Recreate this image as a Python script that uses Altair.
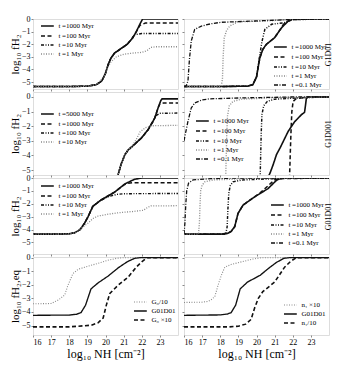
import altair as alt
import pandas as pd

SERIF = "Liberation Serif"
X_TITLE = "log₁₀ NH [cm⁻²]"
Y_TITLE = "log₁₀ fH₂"
Y_TITLE_EQ = "log₁₀ fH₂,eq"
X_TICKS = [16, 17, 18, 19, 20, 21, 22, 23]
Y_TICKS = [0, -1, -2, -3, -4, -5]

# ---------------- Row 1, left ----------------
R1L_T1000_X = [16, 17, 18, 19, 19.5, 19.8, 20.0, 20.15, 20.3, 20.5, 20.8, 21.2, 21.5, 21.7, 21.9, 22.05, 23, 24]
R1L_T1000_Y = [-5.35, -5.35, -5.35, -5.33, -5.2, -4.9, -4.3, -3.6, -3.1, -2.7, -2.4, -2.0, -1.5, -1.0, -0.4, 0, 0, 0]
R1L_T100_X = [16, 18, 19, 19.5, 19.8, 20.0, 20.15, 20.3, 20.5, 20.8, 21.2, 21.5, 21.7, 21.9, 22.2, 24]
R1L_T100_Y = [-5.35, -5.35, -5.33, -5.2, -4.9, -4.3, -3.6, -3.1, -2.7, -2.4, -2.0, -1.5, -1.0, -0.5, -0.32, -0.32]
R1L_T10_X = [16, 18, 19, 19.5, 19.8, 20.0, 20.15, 20.3, 20.5, 20.8, 21.2, 21.4, 21.6, 22.0, 24]
R1L_T10_Y = [-5.35, -5.35, -5.33, -5.2, -4.9, -4.3, -3.6, -3.1, -2.7, -2.4, -2.0, -1.65, -1.25, -1.15, -1.15]
R1L_T1_X = [16, 18, 19, 19.5, 19.9, 20.1, 20.3, 20.6, 21.0, 21.5, 22.0, 22.3, 22.5, 22.8, 24]
R1L_T1_Y = [-5.35, -5.35, -5.33, -5.2, -4.6, -3.9, -3.4, -3.0, -2.8, -2.7, -2.65, -2.5, -2.25, -2.2, -2.2]

# ---------------- Row 1, right (G1D01) ----------------
R1R_T1000_X = [16, 18, 19.5, 19.8, 20.0, 20.18, 20.35, 20.55, 21.0, 21.38, 21.75, 21.95, 24]
R1R_T1000_Y = [-5.35, -5.35, -5.33, -5.2, -4.6, -3.1, -2.4, -2.0, -1.48, -0.7, -0.16, 0, 0]
R1R_T100_X = [16, 18, 19.5, 19.8, 20.0, 20.18, 20.35, 20.55, 21.0, 21.3, 21.5, 21.8, 22.0, 24]
R1R_T100_Y = [-5.35, -5.35, -5.33, -5.2, -4.6, -3.1, -2.4, -2.0, -1.48, -0.85, -0.4, -0.12, -0.03, 0]
R1R_T10_X = [16, 18, 19.5, 19.8, 20.0, 20.13, 20.3, 20.46, 20.83, 21.5, 22.0, 24]
R1R_T10_Y = [-5.35, -5.35, -5.33, -5.2, -4.6, -3.3, -1.8, -0.82, -0.42, -0.3, -0.05, 0]
R1R_T1_X = [16, 17, 18.05, 18.12, 18.16, 18.22, 18.35, 18.52, 18.98, 20.0, 21.0, 21.8, 24]
R1R_T1_Y = [-5.35, -5.35, -5.35, -4.8, -3.0, -1.5, -0.9, -0.56, -0.22, -0.18, -0.12, -0.02, 0]
R1R_T01_X = [16, 16.12, 16.22, 16.3, 16.4, 16.59, 16.96, 17.51, 18.06, 19.9, 21.75, 24]
R1R_T01_Y = [-5.35, -5.3, -4.9, -3.2, -1.75, -0.82, -0.56, -0.37, -0.26, -0.16, -0.05, 0]

# ---------------- Row 2, left ----------------
R2L_T5000_X = [20.62, 20.7, 20.86, 21.07, 21.25, 21.62, 21.98, 22.35, 22.72, 22.9, 23.05, 23.12, 24]
R2L_T5000_Y = [-5.6, -5.3, -4.6, -3.95, -3.63, -3.22, -2.81, -2.24, -1.44, -0.75, -0.25, -0.13, -0.13]
R2L_T1000_X = [20.62, 20.7, 20.86, 21.07, 21.25, 21.62, 21.98, 22.35, 22.72, 22.9, 23.0, 23.2, 24]
R2L_T1000_Y = [-5.6, -5.3, -4.6, -3.95, -3.63, -3.22, -2.81, -2.24, -1.44, -0.75, -0.48, -0.41, -0.41]
R2L_T100_X = [20.62, 20.7, 20.86, 21.07, 21.25, 21.62, 21.98, 22.35, 22.6, 22.75, 23.0, 24]
R2L_T100_Y = [-5.6, -5.3, -4.6, -3.95, -3.63, -3.22, -2.81, -2.24, -1.75, -1.3, -1.12, -1.1]
R2L_T10_X = [20.62, 20.7, 20.86, 21.07, 21.25, 21.45, 21.7, 21.9, 22.2, 22.6, 24]
R2L_T10_Y = [-5.6, -5.3, -4.6, -3.95, -3.63, -3.4, -2.9, -2.4, -2.1, -1.97, -1.94]

# ---------------- Row 2, right (G1D001) ----------------
R2R_T1000_X = [20.6, 20.75, 20.92, 21.1, 21.3, 21.75, 22.1, 22.48, 22.65, 22.7, 22.75, 22.85, 24]
R2R_T1000_Y = [-5.6, -5.2, -4.63, -3.95, -3.49, -2.35, -1.7, -1.21, -1.05, -0.6, -0.1, 0, 0]
R2R_T100_X = [21.82, 21.86, 21.9, 21.95, 22.02, 22.2, 23.0, 24]
R2R_T100_Y = [-5.6, -4.0, -2.5, -1.0, -0.3, -0.1, 0, 0]
R2R_T10_X = [20.2, 20.23, 20.26, 20.3, 20.4, 20.6, 21.0, 22.5, 24]
R2R_T10_Y = [-5.6, -4.0, -2.5, -1.2, -0.6, -0.3, -0.15, -0.05, 0]
R2R_T1_X = [18.3, 18.33, 18.36, 18.4, 18.5, 18.7, 19.2, 21.0, 24]
R2R_T1_Y = [-5.6, -4.0, -2.5, -1.3, -0.6, -0.3, -0.15, -0.05, 0]
R2R_T01_X = [16.0, 16.08, 16.22, 16.4, 16.6, 17.0, 17.4, 19.0, 22.0, 24]
R2R_T01_Y = [-3.0, -2.5, -1.66, -0.75, -0.4, -0.2, -0.13, -0.07, 0, 0]

# ---------------- Row 3, left ----------------
R3L_T1000_X = [16, 17, 18, 18.3, 18.6, 18.85, 19.04, 19.3, 19.76, 20.5, 21.08, 21.6, 22.0, 24]
R3L_T1000_Y = [-4.36, -4.36, -4.33, -4.25, -4.0, -3.5, -3.0, -2.2, -1.7, -1.1, -0.45, -0.1, 0, 0]
R3L_T100_X = [16, 17, 18, 18.3, 18.6, 18.85, 19.04, 19.3, 19.76, 20.5, 21.0, 21.2, 21.5, 24]
R3L_T100_Y = [-4.36, -4.36, -4.33, -4.25, -4.0, -3.5, -3.0, -2.2, -1.7, -1.1, -0.55, -0.42, -0.37, -0.37]
R3L_T10_X = [16, 17, 18, 18.3, 18.6, 18.85, 19.04, 19.3, 19.6, 20.1, 20.6, 21.0, 24]
R3L_T10_Y = [-4.36, -4.36, -4.33, -4.25, -4.0, -3.5, -3.0, -2.2, -1.85, -1.47, -1.28, -1.22, -1.2]
R3L_T1_X = [16, 17, 18, 18.3, 18.6, 18.85, 19.04, 19.3, 19.6, 20.2, 20.7, 21.5, 22.1, 22.3, 22.5, 24]
R3L_T1_Y = [-4.36, -4.36, -4.33, -4.25, -4.0, -3.7, -3.5, -3.15, -2.95, -2.8, -2.7, -2.6, -2.5, -2.3, -2.17, -2.15]

# ---------------- Row 3, right (G01D01) ----------------
R3R_T1000_X = [16, 18, 18.4, 18.6, 18.8, 18.98, 19.26, 19.9, 20.64, 21.1, 21.3, 21.5, 24]
R3R_T1000_Y = [-4.36, -4.36, -4.3, -4.15, -3.77, -2.75, -2.1, -1.46, -0.82, -0.18, -0.05, 0, 0]
R3R_T100_X = [16, 18, 18.4, 18.6, 18.8, 18.98, 19.26, 19.9, 20.2, 20.5, 20.8, 21.0, 21.2, 24]
R3R_T100_Y = [-4.36, -4.36, -4.3, -4.15, -3.77, -2.75, -2.1, -1.46, -1.15, -0.78, -0.4, -0.15, -0.05, 0]
R3R_T10_X = [16, 18.3, 18.38, 18.42, 18.47, 18.55, 18.7, 19.2, 20.5, 22.0, 24]
R3R_T10_Y = [-4.36, -4.36, -3.8, -2.5, -1.2, -0.6, -0.3, -0.15, -0.08, 0, 0]
R3R_T1_X = [16, 16.8, 16.85, 16.88, 16.92, 17.0, 17.15, 17.6, 19.0, 21.0, 24]
R3R_T1_Y = [-4.36, -4.36, -3.5, -2.2, -1.0, -0.55, -0.3, -0.15, -0.08, 0, 0]
R3R_T01_X = [16, 16.05, 16.1, 16.15, 16.25, 16.5, 17.5, 19.0, 24]
R3R_T01_Y = [-4.36, -3.5, -2.0, -1.0, -0.4, -0.15, -0.05, 0, 0]

# ---------------- Row 4, left ----------------
R4L_G0DIV_X = [16, 17.0, 17.4, 17.75, 17.93, 18.2, 18.5, 18.85, 19.5, 20.1, 20.6, 21.0, 24]
R4L_G0DIV_Y = [-3.4, -3.38, -3.12, -2.75, -2.03, -1.18, -0.85, -0.7, -0.45, -0.2, -0.05, 0, 0]
R4L_FID_X = [16, 18, 18.4, 18.65, 18.9, 19.2, 19.6, 20.15, 20.7, 21.2, 21.6, 21.9, 24]
R4L_FID_Y = [-4.25, -4.23, -4.17, -4.05, -3.5, -2.3, -1.85, -1.35, -0.75, -0.3, -0.05, 0, 0]
R4L_G0MUL_X = [16, 18, 19.22, 19.59, 19.87, 20.05, 20.24, 20.7, 21.25, 21.7, 22.0, 22.3, 24]
R4L_G0MUL_Y = [-5.1, -5.1, -4.98, -4.8, -4.45, -3.48, -2.63, -2.03, -1.43, -0.7, -0.3, 0, 0]

# ---------------- Row 4, right ----------------
R4R_N1MUL_X = [16, 17.0, 17.33, 17.5, 17.7, 17.88, 18.06, 18.25, 18.6, 19.2, 19.8, 20.3, 24]
R4R_N1MUL_Y = [-3.3, -3.28, -3.22, -3.1, -2.87, -2.03, -1.3, -0.7, -0.5, -0.3, -0.1, 0, 0]
R4R_FID_X = [16, 18, 18.4, 18.6, 18.85, 19.1, 19.5, 20.2, 20.7, 21.1, 21.5, 21.8, 24]
R4R_FID_Y = [-4.25, -4.22, -4.15, -4.05, -3.5, -2.3, -1.8, -1.3, -0.75, -0.35, -0.05, 0, 0]
R4R_N1DIV_X = [16, 18.5, 19.0, 19.4, 19.7, 19.9, 20.1, 20.35, 21.0, 21.55, 21.9, 22.2, 24]
R4R_N1DIV_Y = [-5.1, -5.1, -5.05, -4.9, -4.55, -3.7, -3.0, -2.5, -1.8, -0.7, -0.25, 0, 0]

# line styles: (dash, colour, width)
STYLES = {
    "solid": ([1, 0], "#111111", 1.6),
    "dash": ([4, 2.5], "#111111", 1.3),
    "dashdotdot": ([3, 1.5, 1, 1.5, 1, 1.5], "#111111", 1.1),
    "dot": ([1, 1.5], "#8a8a8a", 1.1),
    "dashdot": ([4, 1.5, 1, 1.5], "#111111", 1.2),
}


def frame(curves):
    rows = []
    for lab, xs, ys, _ in curves:
        for i, (x, y) in enumerate(zip(xs, ys)):
            rows.append({"label": lab, "N": x, "f": y, "order": i})
    return pd.DataFrame(rows)


def panel(curves, ydom, h, lx, ly, ytitle=None, xlabels=False, rtitle=None, right=False):
    df = frame(curves)
    labels = [c[0] for c in curves]
    dashes = [STYLES[c[3]][0] for c in curves]
    colors = [STYLES[c[3]][1] for c in curves]
    widths = [STYLES[c[3]][2] for c in curves]
    leg = alt.Legend(
        title=None, orient="none", legendX=lx, legendY=ly,
        symbolType="M-1.6,0H1.6", symbolSize=64, symbolStrokeWidth=1.3,
        labelFont=SERIF, labelFontSize=7, rowPadding=1, padding=0,
        labelOffset=6,
    )
    xax = alt.Axis(values=X_TICKS, labels=xlabels, title=X_TITLE if xlabels else None,
                   tickSize=2, grid=False, domain=False, labelFont=SERIF, labelFontSize=8,
                   titleFont=SERIF, titleFontSize=12, titleFontWeight="normal", labelPadding=1,
                   titlePadding=2)
    yax = alt.Axis(values=Y_TICKS, labels=not right, title=ytitle, tickSize=2, grid=False,
                   domain=False, labelFont=SERIF, labelFontSize=8, titleFont=SERIF,
                   titleFontSize=11, titleFontWeight="normal", labelPadding=1, titlePadding=1)
    base = alt.Chart(df).encode(
        x=alt.X("N:Q", scale=alt.Scale(domain=[16, 24], nice=False, zero=False), axis=xax),
        order=alt.Order("order:Q"),
    )
    lines = base.mark_line(clip=True).encode(
        y=alt.Y("f:Q", scale=alt.Scale(domain=ydom, nice=False, zero=False), axis=yax),
        color=alt.Color("label:N", scale=alt.Scale(domain=labels, range=colors), legend=leg),
        strokeDash=alt.StrokeDash("label:N", scale=alt.Scale(domain=labels, range=dashes), legend=leg),
        strokeWidth=alt.StrokeWidth("label:N", scale=alt.Scale(domain=labels, range=widths), legend=None),
    )
    ch = lines
    if rtitle:
        ghost = base.mark_line(clip=True, strokeOpacity=0).encode(
            y=alt.Y("f:Q", scale=alt.Scale(domain=ydom, nice=False, zero=False),
                    axis=alt.Axis(orient="right", labels=False, ticks=False, domain=False,
                                  grid=False, title=rtitle, titleFont=SERIF, titleFontSize=8,
                                  titleFontWeight="normal", titleAngle=270, titlePadding=3)),
            detail="label:N",
        )
        ch = alt.layer(lines, ghost).resolve_axis(y="independent")
    return ch.properties(width=145, height=h)


R1L = [("t =1000 Myr", R1L_T1000_X, R1L_T1000_Y, "solid"),
       ("t =100 Myr", R1L_T100_X, R1L_T100_Y, "dash"),
       ("t =10 Myr", R1L_T10_X, R1L_T10_Y, "dashdotdot"),
       ("t =1 Myr", R1L_T1_X, R1L_T1_Y, "dot")]
R1R = [("t =1000 Myr", R1R_T1000_X, R1R_T1000_Y, "solid"),
       ("t =100 Myr", R1R_T100_X, R1R_T100_Y, "dash"),
       ("t =10 Myr", R1R_T10_X, R1R_T10_Y, "dashdotdot"),
       ("t =1 Myr", R1R_T1_X, R1R_T1_Y, "dot"),
       ("t =0.1 Myr", R1R_T01_X, R1R_T01_Y, "dashdot")]
R2L = [("t =5000 Myr", R2L_T5000_X, R2L_T5000_Y, "solid"),
       ("t =1000 Myr", R2L_T1000_X, R2L_T1000_Y, "dash"),
       ("t =100 Myr", R2L_T100_X, R2L_T100_Y, "dashdotdot"),
       ("t =10 Myr", R2L_T10_X, R2L_T10_Y, "dot")]
R2R = [("t =1000 Myr", R2R_T1000_X, R2R_T1000_Y, "solid"),
       ("t =100 Myr", R2R_T100_X, R2R_T100_Y, "dash"),
       ("t =10 Myr", R2R_T10_X, R2R_T10_Y, "dashdotdot"),
       ("t =1 Myr", R2R_T1_X, R2R_T1_Y, "dot"),
       ("t =0.1 Myr", R2R_T01_X, R2R_T01_Y, "dashdot")]
R3L = [("t =1000 Myr", R3L_T1000_X, R3L_T1000_Y, "solid"),
       ("t =100 Myr", R3L_T100_X, R3L_T100_Y, "dash"),
       ("t =10 Myr", R3L_T10_X, R3L_T10_Y, "dashdotdot"),
       ("t =1 Myr", R3L_T1_X, R3L_T1_Y, "dot")]
R3R = [("t =1000 Myr", R3R_T1000_X, R3R_T1000_Y, "solid"),
       ("t =100 Myr", R3R_T100_X, R3R_T100_Y, "dash"),
       ("t =10 Myr", R3R_T10_X, R3R_T10_Y, "dashdotdot"),
       ("t =1 Myr", R3R_T1_X, R3R_T1_Y, "dot"),
       ("t =0.1 Myr", R3R_T01_X, R3R_T01_Y, "dashdot")]
R4L = [("G₀/10", R4L_G0DIV_X, R4L_G0DIV_Y, "dot"),
       ("G01D01", R4L_FID_X, R4L_FID_Y, "solid"),
       ("G₀ ×10", R4L_G0MUL_X, R4L_G0MUL_Y, "dash")]
R4R = [("n₁ ×10", R4R_N1MUL_X, R4R_N1MUL_Y, "dot"),
       ("G01D01", R4R_FID_X, R4R_FID_Y, "solid"),
       ("n₁/10", R4R_N1DIV_X, R4R_N1DIV_Y, "dash")]

RES = dict(color="independent", strokeDash="independent", strokeWidth="independent")

panels = [
    panel(R1L, [-5.55, 0], 70, 9.4, 2, ytitle=Y_TITLE),
    panel(R1R, [-5.55, 0], 70, 91.4, 23, rtitle="G1D01", right=True),
    panel(R2L, [-5.34, 0.34], 83, 9.4, 17, ytitle=Y_TITLE),
    panel(R2R, [-5.34, 0.34], 83, 13.4, 24, rtitle="G1D001", right=True),
    panel(R3L, [-5.9, 0], 76, 9.4, 3, ytitle=Y_TITLE),
    panel(R3R, [-5.9, 0], 76, 88.4, 22, rtitle="G01D01", right=True),
    panel(R4L, [-5.7, 0.05], 78, 102.4, 40, ytitle=Y_TITLE_EQ, xlabels=True),
    panel(R4R, [-5.7, 0.05], 78, 101.4, 43, xlabels=True, right=True),
]

chart = alt.concat(*panels, columns=2, spacing={"row": 3, "column": 6}, bounds="flush").resolve_scale(**RES).properties(
    padding={"left": 0, "top": 6, "right": 2, "bottom": 2}
).configure_view(stroke="#555555", strokeWidth=1).configure_axis(
    tickColor="#555555", labelColor="#222222", titleColor="#111111"
).configure(background="white")

chart.save("out.html", embed_options={"renderer": "svg", "actions": False})
